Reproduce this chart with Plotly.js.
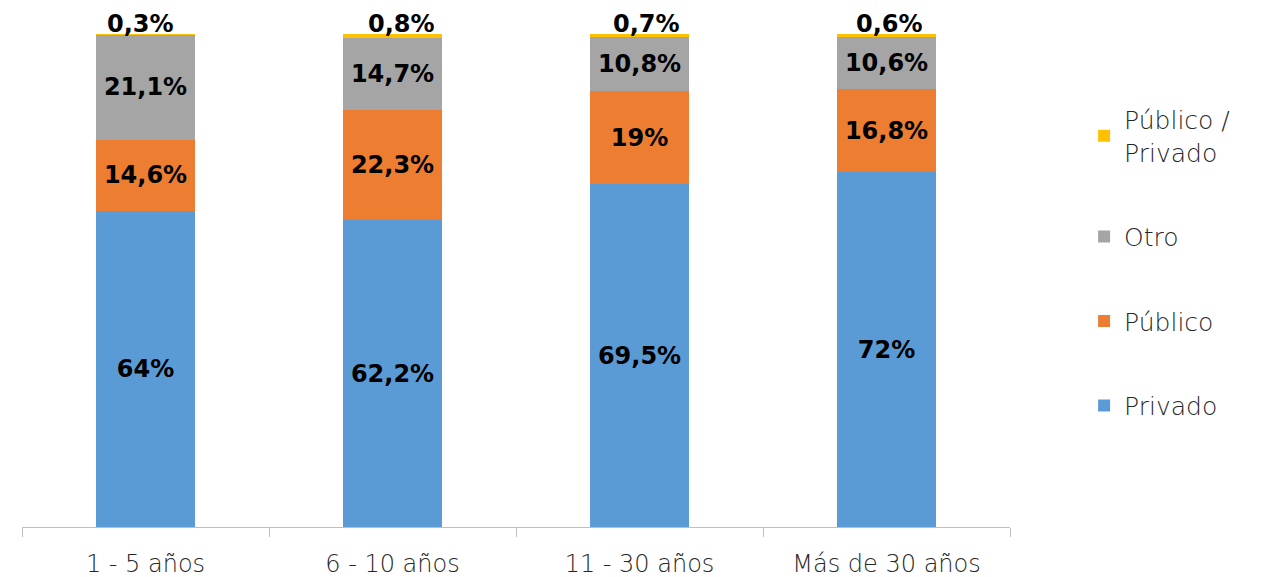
<!DOCTYPE html>
<html>
<head>
<meta charset="utf-8">
<script src="https://cdn.plot.ly/plotly-3.0.1.min.js"></script>
<style>html,body{margin:0;padding:0;background:#fff;}#chart{width:1271px;height:577px;}</style>
</head>
<body>
<div id="chart"></div>
<script>
var categories = ["1 - 5 años", "6 - 10 años", "11 - 30 años", "Más de 30 años"];
var privado = [64, 62.2, 69.5, 72];
var publico = [14.6, 22.3, 19, 16.8];
var otro = [21.1, 14.7, 10.8, 10.6];
var publicoPrivado = [0.3, 0.8, 0.7, 0.6];
var seriesNames = ["Privado", "Público", "Otro", "Público /<br>Privado"];
var seriesColors = ["#5B9BD5", "#ED7D31", "#A5A5A5", "#FFC000"];

function fmt(arr) { return arr.map(function (v) { return String(v).replace('.', ',') + '%'; }); }

var labelFont = {family: "'DejaVu Sans', sans-serif", size: 24, color: "#000", weight: 700};
var tickFont = {family: "'DejaVu Sans', sans-serif", size: 24, color: '#262626', weight: 200};
var legFont = {family: "'DejaVu Sans', sans-serif", size: 25, color: '#262626', weight: 200};
var allSeries = [privado, publico, otro, publicoPrivado];
var traces = allSeries.map(function (vals, i) {
  var top = (i === allSeries.length - 1);
  return {
    type: 'bar',
    name: seriesNames[i],
    x: categories,
    y: vals,
    text: top ? null : fmt(vals),
    textposition: top ? 'none' : 'inside',
    insidetextanchor: 'middle',
    textangle: 0,
    constraintext: 'none',
    textfont: labelFont,
    insidetextfont: labelFont,
    marker: {color: seriesColors[i], line: {width: 0}},
    legendgroup: 'g' + i,
    legendrank: 1000 - i,
    hoverinfo: 'none'
  };
});

var topLabels = fmt(publicoPrivado);
var annotations = categories.map(function (c, k) {
  var total = privado[k] + publico[k] + otro[k] + publicoPrivado[k];
  return {
    x: c, y: total, xref: 'x', yref: 'y',
    text: topLabels[k], showarrow: false,
    yanchor: 'bottom', yshift: -6,
    xshift: [-5, 9, 7, 3][k],
    font: labelFont
  };
});

var layout = {
  width: 1271,
  height: 577,
  barmode: 'stack',
  bargap: 0.6,
  paper_bgcolor: '#ffffff',
  plot_bgcolor: '#ffffff',
  margin: {l: 22, r: 261, t: 34, b: 50},
  showlegend: true,
  annotations: annotations,
  legend: {
    x: 1.075, xanchor: 'left', y: 0.536, yanchor: 'middle',
    traceorder: 'grouped',
    tracegroupgap: 49,
    font: legFont,
    itemwidth: 30
  },
  xaxis: {
    type: 'category',
    showgrid: false,
    showline: true,
    linecolor: '#BFBFBF',
    linewidth: 1,
    ticks: 'outside',
    tickson: 'boundaries',
    ticklen: 9,
    tickcolor: '#BFBFBF',
    ticklabelstandoff: 15,
    tickfont: tickFont,
    zeroline: false
  },
  yaxis: {
    range: [0, 100],
    visible: false,
    showgrid: false,
    zeroline: false
  }
};

Plotly.newPlot('chart', traces, layout, {displayModeBar: false, staticPlot: true});
</script>
</body>
</html>
